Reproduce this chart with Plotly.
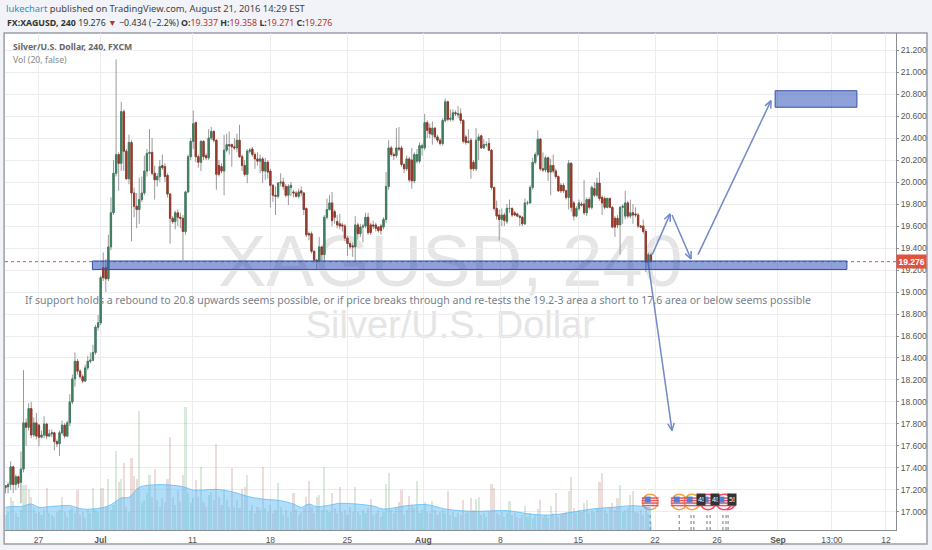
import plotly.graph_objects as go
import math

opens = [
17.22,17.23,17.25,17.41,17.25,17.32,17.27,17.39,17.81,17.77,
17.94,17.70,17.81,17.79,17.68,17.70,17.80,17.69,17.71,17.72,
17.64,17.62,17.72,17.79,17.69,17.81,18.00,18.21,18.37,18.28,
18.23,18.19,18.31,18.37,18.38,18.45,18.68,18.72,19.22,19.22,
19.12,19.41,19.72,20.08,20.25,20.17,20.64,20.28,20.03,20.36,
19.90,19.78,19.75,19.84,19.90,20.10,20.26,20.27,20.08,20.02,
20.05,20.15,20.14,20.06,19.89,19.67,19.64,19.72,19.68,19.67,
19.55,19.91,20.23,20.37,20.54,20.23,20.18,20.37,20.24,20.22,
20.40,20.46,20.38,20.15,20.14,20.10,20.29,20.34,20.34,20.32,
20.31,20.38,20.23,20.15,20.07,20.28,20.30,20.25,20.21,20.19,
20.21,20.10,20.18,20.10,19.97,19.88,19.87,19.99,20.00,19.96,
19.88,19.95,19.91,19.90,19.87,19.92,19.90,19.76,19.53,19.53,
19.37,19.29,19.28,19.41,19.34,19.68,19.75,19.81,19.73,19.64,
19.62,19.61,19.60,19.49,19.44,19.42,19.41,19.61,19.53,19.59,
19.60,19.68,19.61,19.61,19.61,19.59,19.60,19.59,19.66,19.96,
20.31,20.25,20.24,20.31,20.31,20.16,20.12,20.21,20.20,20.01,
20.19,20.19,20.31,20.31,20.54,20.49,20.43,20.49,20.41,20.38,
20.35,20.56,20.73,20.57,20.57,20.63,20.61,20.62,20.56,20.41,
20.36,20.38,20.18,20.12,20.38,20.42,20.31,20.34,20.35,20.29,
19.95,19.76,19.70,19.66,19.70,19.64,19.76,19.76,19.72,19.71,
19.69,19.68,19.62,19.81,19.81,19.95,20.18,20.25,20.39,20.12,
20.11,20.22,20.09,20.15,20.10,20.05,19.97,19.97,19.92,19.86,
20.17,19.81,19.69,19.76,19.80,19.80,19.72,19.84,19.77,19.94,
19.88,19.99,19.86,19.85,19.77,19.85,19.77,19.67,19.67,19.61,
19.77,19.69,19.81,19.69,19.72,19.71,19.70,19.60,19.60,19.55,
19.27,19.337]
highs = [
17.24,17.27,17.46,17.42,17.34,17.33,17.55,18.29,17.85,17.99,
18.00,17.86,17.90,17.80,17.74,17.87,17.81,17.75,17.75,17.73,
17.66,17.74,17.83,17.81,17.83,18.07,18.25,18.45,18.39,18.30,
18.25,18.34,18.42,18.45,18.52,18.70,18.79,19.15,19.36,19.30,
19.52,19.86,20.20,21.115,20.27,20.73,20.66,20.30,20.43,20.38,
19.95,19.90,20.04,20.05,20.24,20.30,20.48,20.40,20.15,20.08,
20.20,20.25,20.17,20.08,19.90,19.69,19.74,19.75,19.72,19.70,
19.92,20.25,20.40,20.65,20.55,20.25,20.38,20.38,20.26,20.48,
20.50,20.47,20.39,20.20,20.17,20.43,20.44,20.46,20.35,20.40,
20.44,20.52,20.25,20.20,20.30,20.31,20.32,20.27,20.27,20.25,
20.23,20.22,20.20,20.12,19.98,19.96,20.00,20.08,20.04,19.98,
19.98,20.00,19.93,19.92,19.94,19.96,19.91,19.77,19.55,19.55,
19.38,19.30,19.50,19.42,19.70,19.85,19.88,19.91,19.75,19.70,
19.71,19.63,19.62,19.51,19.46,19.45,19.69,19.63,19.62,19.62,
19.72,19.72,19.63,19.65,19.63,19.60,19.62,19.68,20.09,20.38,
20.33,20.27,20.49,20.50,20.33,20.17,20.24,20.23,20.31,20.27,
20.30,20.36,20.35,20.62,20.56,20.53,20.55,20.50,20.43,20.40,
20.58,20.76,20.74,20.66,20.66,20.65,20.69,20.67,20.57,20.43,
20.48,20.40,20.20,20.49,20.44,20.43,20.39,20.37,20.40,20.30,
19.96,19.83,19.75,19.76,19.72,19.80,19.84,19.77,19.74,19.72,
19.70,19.69,19.85,19.83,19.97,20.22,20.27,20.47,20.40,20.27,
20.24,20.23,20.21,20.25,20.12,20.06,19.99,19.99,19.93,20.20,
20.18,19.83,19.78,19.84,19.82,20.02,19.86,19.86,19.97,20.00,
20.04,20.09,19.88,19.87,19.86,19.86,19.78,19.69,19.70,19.78,
19.80,19.92,19.83,19.84,19.80,19.77,19.72,19.61,19.66,19.57,
19.36,19.358]
lows = [
17.17,17.17,17.20,17.17,17.20,17.22,17.08,17.36,17.60,17.74,
17.67,17.68,17.66,17.60,17.67,17.67,17.66,17.68,17.68,17.56,
17.59,17.51,17.70,17.67,17.68,17.78,17.98,18.14,18.25,18.21,
18.17,18.18,18.29,18.35,18.37,18.43,18.65,18.70,19.10,19.00,
19.10,19.38,19.70,20.05,19.92,20.10,20.10,20.02,19.98,19.46,
19.68,19.58,19.62,19.82,19.88,20.05,20.10,20.06,19.84,19.96,
20.00,20.11,20.00,19.86,19.44,19.62,19.57,19.60,19.58,19.29,
19.52,19.90,20.20,20.30,20.18,20.13,20.10,20.20,20.20,20.20,
20.38,20.36,19.93,20.05,20.08,19.88,20.27,20.25,20.14,20.29,
20.27,20.22,20.10,20.05,19.99,20.26,20.23,20.12,20.15,20.08,
19.99,20.02,20.03,19.77,19.82,19.70,19.85,19.96,19.93,19.86,
19.79,19.87,19.86,19.86,19.85,19.87,19.70,19.50,19.47,19.35,
19.27,19.20,19.27,19.28,19.28,19.66,19.74,19.60,19.62,19.58,
19.57,19.55,19.46,19.33,19.39,19.32,19.27,19.48,19.50,19.45,
19.58,19.52,19.52,19.57,19.55,19.54,19.52,19.57,19.63,19.93,
20.23,20.20,20.22,20.28,20.14,20.08,20.10,20.00,19.94,19.99,
20.17,20.17,20.24,20.29,20.40,20.40,20.34,20.39,20.36,20.33,
20.33,20.54,20.55,20.55,20.55,20.60,20.58,20.53,20.35,20.34,
20.35,20.03,20.10,20.10,20.20,20.30,20.30,20.32,20.28,19.93,
19.74,19.66,19.47,19.60,19.60,19.62,19.72,19.68,19.69,19.68,
19.60,19.60,19.61,19.79,19.80,19.93,20.16,20.23,20.10,20.09,
20.09,20.01,19.88,20.08,20.03,19.91,19.90,19.90,19.84,19.75,
19.73,19.65,19.68,19.74,19.78,19.70,19.69,19.75,19.75,19.86,
19.86,19.83,19.70,19.75,19.76,19.76,19.58,19.50,19.58,19.34,
19.62,19.66,19.67,19.67,19.62,19.68,19.58,19.58,19.53,19.18,
19.26,19.271]
closes = [
17.24,17.25,17.41,17.25,17.32,17.26,17.39,17.81,17.77,17.94,
17.70,17.81,17.69,17.68,17.70,17.80,17.69,17.71,17.72,17.64,
17.62,17.72,17.79,17.69,17.81,18.00,18.21,18.37,18.28,18.23,
18.19,18.31,18.37,18.38,18.45,18.68,18.72,19.13,19.13,19.12,
19.41,19.72,20.08,20.25,20.17,20.64,20.28,20.03,20.36,19.90,
19.78,19.75,19.84,19.90,20.10,20.26,20.27,20.08,20.02,20.05,
20.14,20.13,20.05,19.89,19.67,19.64,19.72,19.68,19.67,19.55,
19.91,20.23,20.37,20.53,20.23,20.18,20.37,20.23,20.22,20.40,
20.46,20.38,20.07,20.07,20.10,20.29,20.34,20.33,20.32,20.31,
20.38,20.23,20.15,20.07,20.28,20.29,20.25,20.21,20.19,20.21,
20.10,20.18,20.09,19.97,19.88,19.87,19.99,20.00,19.96,19.88,
19.96,19.97,19.90,19.87,19.91,19.90,19.75,19.52,19.52,19.37,
19.29,19.28,19.41,19.34,19.68,19.75,19.81,19.65,19.68,19.61,
19.60,19.60,19.49,19.44,19.41,19.41,19.61,19.53,19.59,19.60,
19.68,19.54,19.54,19.60,19.58,19.56,19.56,19.66,19.96,20.31,
20.25,20.24,20.31,20.30,20.16,20.12,20.21,20.02,20.01,20.25,
20.25,20.33,20.33,20.54,20.47,20.44,20.49,20.41,20.38,20.35,
20.56,20.73,20.57,20.58,20.63,20.62,20.62,20.56,20.37,20.36,
20.37,20.12,20.12,20.38,20.41,20.31,20.34,20.34,20.29,19.95,
19.76,19.69,19.66,19.70,19.65,19.76,19.76,19.70,19.70,19.69,
19.68,19.62,19.81,19.81,19.95,20.18,20.25,20.39,20.12,20.11,
20.22,20.09,20.15,20.10,20.05,19.92,19.92,19.92,19.86,20.17,
19.77,19.69,19.76,19.81,19.79,19.72,19.84,19.77,19.95,19.88,
19.99,19.85,19.81,19.77,19.85,19.77,19.59,19.59,19.61,19.77,
19.78,19.81,19.69,19.72,19.70,19.70,19.60,19.59,19.55,19.27,
19.34,19.276]
volumes = [
45,55,98,88,50,40,60,136,136,123,
98,65,50,55,45,60,126,50,45,40,
55,60,98,55,40,60,65,50,120,45,
55,35,60,50,126,60,55,126,126,70,
153,60,75,238,143,153,200,70,55,216,
163,153,356,80,90,110,166,100,183,90,
70,95,85,153,280,100,75,120,85,166,
370,110,80,95,150,100,190,85,70,105,
115,90,258,100,75,123,90,70,186,70,
90,65,123,130,166,60,75,50,70,60,
188,65,55,75,50,60,140,70,45,60,
40,55,110,60,45,55,65,98,148,70,
50,98,106,60,188,60,55,110,65,50,
128,55,60,45,70,55,130,55,45,60,
50,65,93,45,50,60,40,55,138,171,
60,50,65,83,120,45,60,103,76,65,
148,50,60,83,55,50,88,60,45,55,
60,50,118,45,55,40,50,45,91,50,
55,95,60,93,100,45,50,40,55,138,
126,50,45,55,40,50,88,45,50,40,
35,45,73,40,50,35,45,63,91,40,
45,35,73,50,110,40,45,50,55,118,
160,66,50,60,55,81,91,50,60,55,
65,145,171,60,50,65,80,60,96,136,
55,60,65,106,118,55,50,60,45,70,
50,25]
ma_bars = [0,3,6,10,13,17,25,30,37,41,45,48,52,59,64,69,73,77,82,89,94,100,107,112,115,118,121,127,
           130,143,147,156,164,171,182,195,204,212,220,228,236,245,251]
ma_values = [68,71,70,78,68,70,73,63,66,76,96,98,128,136,135,130,120,120,122,113,101,93,88,78,68,78,70,76,
             80,72,63,73,76,63,56,58,48,45,53,63,68,73,66]

tick_bars = [12.8,36.9,72.7,103,132.9,162.5,192.4,222.7,252.6,276.7,300.4,321.4,342.4]
tick_labels = ["27","<b>Jul</b>","11","18","25","<b>Aug</b>","8","15","22","26","<b>Sep</b>","13:00","12"]
price_ticks = [17+0.2*k for k in range(22)]
price_labels = [f"{v:.3f}" for v in price_ticks]

W, H = 932, 550
L, R, T, B = 4.5, 896, 33, 530
X0, X1 = -0.2, 346.3
Y0, Y1 = 16.836, 21.355
PX_X = (R-L)/(X1-X0)
PX_Y = (B-T)/(Y1-Y0)

GREEN, RED = "#3f7f60", "#963a2a"
ARROW = "#7389c8"
n = len(closes)
bars = list(range(n))
fig = go.Figure()

# volume
vol_colors = ["rgba(108,170,120,0.26)" if c >= o else "rgba(185,110,100,0.24)" for o, c in zip(opens, closes)]
fig.add_trace(go.Bar(x=bars, y=volumes, yaxis="y2", marker=dict(color=vol_colors, line_width=0), width=0.8, showlegend=False))
fig.add_trace(go.Scatter(x=ma_bars, y=ma_values, yaxis="y2", mode="lines", line=dict(color="rgba(90,185,245,0.75)", width=1, shape="spline"),
                         fill="tozeroy", fillcolor="rgba(90,185,245,0.48)", showlegend=False))

# candles: grey wicks first, coloured bodies on top
fig.add_trace(go.Candlestick(x=bars, open=opens, high=highs, low=lows, close=closes, whiskerwidth=0,
                             increasing=dict(line=dict(color="#999999", width=1), fillcolor=GREEN),
                             decreasing=dict(line=dict(color="#999999", width=1), fillcolor=RED), showlegend=False))
fig.add_trace(go.Candlestick(x=bars, open=opens, close=closes,
                             high=[max(o, c) for o, c in zip(opens, closes)],
                             low=[min(o, c) for o, c in zip(opens, closes)], whiskerwidth=0,
                             increasing=dict(line=dict(color=GREEN, width=1), fillcolor=GREEN),
                             decreasing=dict(line=dict(color=RED, width=1), fillcolor=RED), showlegend=False))

def arrow(x0, y0, x1, y1, size=8):
    dx, dy = (x1-x0)*PX_X, (y1-y0)*PX_Y
    a = math.atan2(dy, dx)
    xs, ys = [x0, x1, None], [y0, y1, None]
    for s in (1, -1):
        b = a + math.pi + s*0.42
        xs += [x1 + size*math.cos(b)/PX_X, x1, None]
        ys += [y1 + size*math.sin(b)/PX_Y, y1, None]
    fig.add_trace(go.Scatter(x=xs, y=ys, mode="lines", line=dict(color=ARROW, width=1.5), showlegend=False, hoverinfo="skip"))

arrow(249.9, 19.27, 259.2, 17.74)
arrow(251.5, 19.34, 258.5, 19.71)
arrow(259.2, 19.70, 266.6, 19.30)
arrow(269.3, 19.34, 297.7, 20.74)

# event flags
for bx in [250.7, 262, 266.6, 267.7, 272.8, 274, 279, 280.2, 281]:
    fig.add_trace(go.Scatter(x=[bx, bx], y=[Y0, 17.0], mode="lines", line=dict(color="#777", width=1, dash="dot"), showlegend=False, hoverinfo="skip"))

def flag(bx, ring):
    py = 17.09
    fig.add_trace(go.Scatter(x=[bx], y=[py], mode="markers", marker=dict(size=15.5, color="white", line=dict(color=ring, width=1.5)), showlegend=False, hoverinfo="skip"))
    fig.add_trace(go.Scatter(x=[bx]*4, y=[py+4/PX_Y, py+1.5/PX_Y, py-1/PX_Y, py-3.5/PX_Y], mode="markers",
                             marker=dict(symbol="line-ew", size=12, line=dict(color="#e8505b", width=1.5)), showlegend=False, hoverinfo="skip"))
    fig.add_trace(go.Scatter(x=[bx-2.5/PX_X], y=[py+2.5/PX_Y], mode="markers",
                             marker=dict(symbol="square", size=6, color="#4f7fd6"), showlegend=False, hoverinfo="skip"))

for bx, ring in [(250.7, "#f5a33e"), (262, "#f5a33e"), (267, "#f5a33e"), (273.2, "#f4476a"), (280.8, "#f4476a"), (279.4, "#f4476a")]:
    flag(bx, ring)

shapes = [
    # chart card and frame
    dict(type="rect", xref="paper", yref="paper", x0=-0.001, x1=(927-L)/(R-L), y0=-(544-B)/(B-T), y1=1,
         fillcolor="white", line=dict(color="#9a9fa6", width=1.5), layer="below"),
    # watermark
    dict(type="rect", x0=58, x1=288, y0=18.85, y1=19.85, line_width=0, fillcolor="rgba(0,0,0,0)", layer="below",
         label=dict(text="XAGUSD, 240", font=dict(family="Liberation Sans", size=72, color="#e5e5e5"), textposition="middle center")),
    dict(type="rect", x0=98, x1=248, y0=18.41, y1=19.06, line_width=0, fillcolor="rgba(0,0,0,0)", layer="below",
         label=dict(text="Silver/U.S. Dollar", font=dict(family="Liberation Sans", size=38, color="#e5e5e5"), textposition="middle center")),
    # last price line
    dict(type="line", x0=X0, x1=X1, y0=closes[-1], y1=closes[-1], line=dict(color="#e0503f", width=1, dash="dot")),
    # zones
    dict(type="rect", x0=33.8, x1=327.2, y0=19.205, y1=19.282, fillcolor="rgba(50,85,185,0.55)", line=dict(color="#3350a8", width=1)),
    dict(type="rect", x0=299.3, x1=331.1, y0=20.68, y1=20.83, fillcolor="rgba(50,85,185,0.55)", line=dict(color="#3350a8", width=1)),
]

UI = "Noto Sans"
ann = []
def text(px, py, t, size, color="#333", font=UI, **kw):
    ann.append(dict(xref="paper", yref="paper", x=(px-L)/(R-L), y=(B-py)/(B-T), text=t, showarrow=False,
                    xanchor=kw.pop("xanchor", "left"), yanchor="middle", font=dict(family=font, size=size, color=color), **kw))

text(3.5, 9, '<span style="color:#2a8fc9">lukechart</span> published on TradingView.com, August 21, 2016 14:29 EST', 9.4, "#444")
V = '<span style="color:#b5342b">%s</span>'
text(4.5, 23, '<b>FX:XAGUSD, 240</b> 19.276 ' + '<span style="color:#b5342b">▼</span> −0.434 (−2.2%) <b>O:</b>' + V % '19.337'
     + ' <b>H:</b>' + V % '19.358' + ' <b>L:</b>' + V % '19.271' + ' <b>C:</b>' + V % '19.276', 8.8, "#333")
text(10.5, 47, "<b>Silver/U.S. Dollar, 240, FXCM</b>", 8.7, "#666")
text(10.5, 60, "Vol (20, false)", 8.7, "#888")
text(23, 300.5, "If support holds a rebound to 20.8 upwards seems possible, or if price breaks through and re-tests the 19.2-3 area a short to 17.6 area or below seems possible",
     10.55, "#78818e")
for px, t in [(701, "4!"), (715, "4!"), (732, "5!")]:
    text(px, 499, t, 7, "white", xanchor="center", bgcolor="#333333", borderpad=1)
text(896, 261, "<b>19.276</b>", 8.5, "white", font="Liberation Sans", bgcolor="#e0533f", borderpad=1.5)

fig.update_layout(
    width=W, height=H, autosize=False,
    margin=dict(l=L, r=W-R, t=T, b=H-B, pad=0),
    paper_bgcolor="#f1f3f8", plot_bgcolor="white",
    showlegend=False, barmode="overlay", bargap=0, hovermode=False,
    shapes=shapes, annotations=ann,
    xaxis=dict(range=[X0, X1], tickmode="array", tickvals=tick_bars, ticktext=tick_labels,
               showgrid=True, gridcolor="#ebebf0", gridwidth=1, showline=True, linecolor="#8a8d92", linewidth=1,
               ticks="", ticklabelstandoff=2, tickfont=dict(family="Liberation Sans", size=8.5, color="#555"), rangeslider=dict(visible=False), zeroline=False),
    yaxis=dict(range=[Y0, Y1], side="right", tickmode="array", tickvals=price_ticks, ticktext=price_labels,
               showgrid=True, gridcolor="#ebebf0", gridwidth=1, showline=True, linecolor="#8a8d92", linewidth=1,
               ticks="outside", ticklen=2, tickcolor="#8a8d92", tickfont=dict(family="Liberation Sans", size=8.5, color="#555"), zeroline=False),
    yaxis2=dict(range=[0, 1491], overlaying="y", side="left", visible=False),
)
fig.write_html("out.html", config=dict(displayModeBar=False), post_script="document.body.style.margin='0';document.body.style.background='#f1f3f8';")
